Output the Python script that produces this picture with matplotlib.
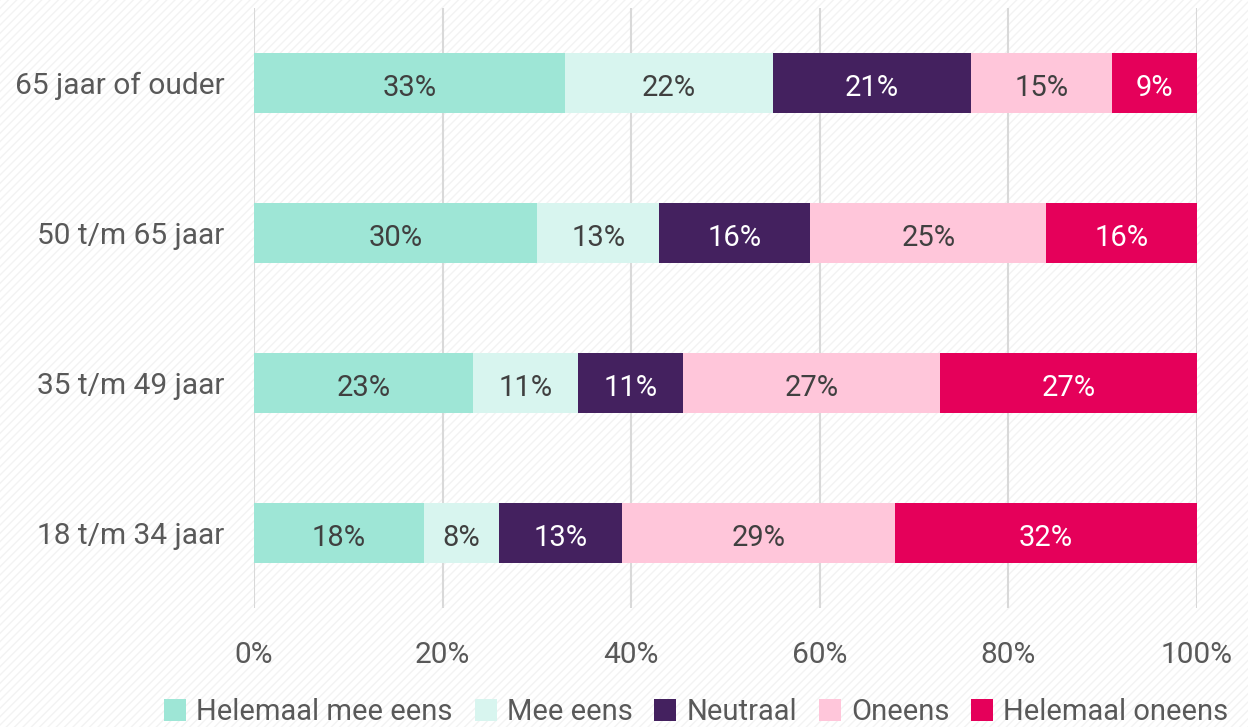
import matplotlib.pyplot as plt
import numpy as np

# age groups, bottom to top
groups = ["18 t/m 34 jaar", "35 t/m 49 jaar", "50 t/m 65 jaar", "65 jaar of ouder"]
answers = ["Helemaal mee eens", "Mee eens", "Neutraal", "Oneens", "Helemaal oneens"]

helemaal_mee_eens = [18, 23, 30, 33]
mee_eens = [8, 11, 13, 22]
neutraal = [13, 11, 16, 21]
oneens = [29, 27, 25, 15]
helemaal_oneens = [32, 27, 16, 9]

colors = ["#9EE6D6", "#D8F5EF", "#44215F", "#FFC6DA", "#E5005A"]
text_colors = ["#404040", "#404040", "white", "#404040", "white"]

plt.rcParams['font.family'] = ['Roboto', 'DejaVu Sans']

series = np.array([helemaal_mee_eens, mee_eens, neutraal, oneens, helemaal_oneens], dtype=float)
# bars are drawn to fill 100% (rounded labels don't always add up)
shares = series / series.sum(axis=0) * 100

fig = plt.figure(figsize=(12.48, 7.27), dpi=100)
fig.patch.set_facecolor("white")
fig.patch.set_edgecolor("#f3f3f3")
fig.patch.set_hatch("////")
fig.patch.set_linewidth(0)

ax = fig.add_axes([254 / 1248, 1 - 608 / 727, (1197 - 254) / 1248, 600 / 727])
ax.patch.set_alpha(0)

y = np.arange(len(groups))
left = np.zeros(len(groups))
for i, name in enumerate(answers):
    bars = ax.barh(y, shares[i], left=left, height=0.4, color=colors[i], label=name, zorder=3)
    for j, b in enumerate(bars):
        ax.text(left[j] + shares[i][j] / 2, y[j] - 0.01, f"{int(series[i][j])}%",
                ha="center", va="center_baseline", fontsize=21, color=text_colors[i], zorder=4)
    left += shares[i]

ax.set_xlim(0, 100)
ax.set_ylim(-0.5, 3.5)
ax.set_xticks([0, 20, 40, 60, 80, 100])
ax.set_xticklabels([f"{t}%" for t in [0, 20, 40, 60, 80, 100]])
ax.set_yticks(y)
ax.set_yticklabels(groups)
ax.tick_params(length=0, labelsize=21.5, labelcolor="#595959")
ax.tick_params(axis="x", pad=24)
ax.tick_params(axis="y", pad=21)
ax.grid(axis="x", color="#d9d9d9", linewidth=1.5, zorder=0)
for s in ax.spines.values():
    s.set_visible(False)

leg = fig.legend(loc="lower center", bbox_to_anchor=(0.558, -0.035), ncol=5, frameon=False,
                 fontsize=21, handlelength=0.75, handleheight=0.75, handletextpad=0.35,
                 columnspacing=0.75)
for t in leg.get_texts():
    t.set_color("#595959")

fig.savefig("out.png", dpi=100, facecolor=fig.get_facecolor(), edgecolor=fig.patch.get_edgecolor())
